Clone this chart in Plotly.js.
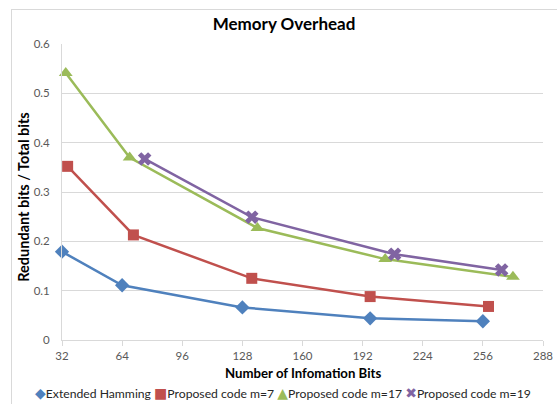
<!DOCTYPE html>
<html>
<head>
<meta charset="utf-8">
<script src="https://cdn.plot.ly/plotly-3.0.1.min.js"></script>
<style>
  html, body { margin: 0; padding: 0; background: #ffffff; overflow: hidden; }
  #frame { position: absolute; left: 11px; top: 9px; width: 600px; height: 450px; border: 1px solid #d9d9d9; box-sizing: border-box; }
  #chart { position: absolute; left: 0; top: 0; width: 557px; height: 404px; }
</style>
</head>
<body>
<div id="frame"></div>
<div id="chart"></div>
<script>
// ---- data ----
const seriesNames = ["Extended Hamming", "Proposed code m=7", "Proposed code m=17", "Proposed code m=19"];

const xHamming = [32, 64, 128, 196, 256];
const yHamming = [0.179, 0.111, 0.066, 0.044, 0.038];

const xM7 = [35, 70, 133, 196, 259];
const yM7 = [0.352, 0.213, 0.125, 0.088, 0.068];

const xM17 = [34, 68, 136, 204, 272];
const yM17 = [0.541, 0.370, 0.227, 0.164, 0.128];

const xM19 = [76, 133, 209, 266];
const yM19 = [0.367, 0.249, 0.174, 0.142];

const xTicks = [32, 64, 96, 128, 160, 192, 224, 256, 288];
const yTicks = [0, 0.1, 0.2, 0.3, 0.4, 0.5, 0.6];
const yTickText = ["0", "0.1", "0.2", "0.3", "0.4", "0.5", "0.6"];

// ---- styling ----
const FONT = "Lato, 'Open Sans', 'Liberation Sans', sans-serif";
const SYMFONT = "'DejaVu Sans', sans-serif";
const colors = ["#4F81BD", "#C0504D", "#9BBB59", "#8064A2"];
const symbols = ["diamond", "square", "triangle-up", "x"];
const legendGlyphs = ["\u25C6", "\u25A0", "\u25B2", "\u2716"];
const sizes = [11, 11, 12, 12];

const xs = [xHamming, xM7, xM17, xM19];
const ys = [yHamming, yM7, yM17, yM19];

const traces = seriesNames.map((name, i) => ({
  type: "scatter",
  mode: "lines+markers",
  name: name,
  x: xs[i],
  y: ys[i],
  line: { color: colors[i], width: 2.5 },
  marker: { color: colors[i], symbol: symbols[i], size: sizes[i], line: { width: 0 } },
  cliponaxis: false,
  showlegend: false
}));

// legend drawn as one line of rich text (glyph in series colour + name)
const legendText = seriesNames.map((name, i) =>
  '<span style="color:' + colors[i] + ';font-family:' + SYMFONT + ';font-size:14px">' + legendGlyphs[i] + '</span>' + name
).join(" ");

const L = 62, R = 14, T = 44, B = 63.5, W = 557, H = 404;
const plotW = W - L - R, plotH = H - T - B;

const layout = {
  width: W,
  height: H,
  paper_bgcolor: "rgba(0,0,0,0)",
  plot_bgcolor: "rgba(0,0,0,0)",
  margin: { l: L, r: R, t: T, b: B, pad: 0 },
  font: { family: FONT, size: 12, color: "#595959" },
  title: {
    text: "<b>Memory Overhead</b>",
    font: { family: FONT, size: 17, color: "#000000" },
    x: 284 / W, xref: "container", xanchor: "center",
    y: 1 - 24 / H, yref: "container", yanchor: "middle"
  },
  xaxis: {
    range: [32, 288],
    tickvals: xTicks,
    ticktext: xTicks.map(String),
    showgrid: false,
    zeroline: false,
    showline: true,
    linecolor: "#d9d9d9",
    linewidth: 1,
    ticks: "outside",
    ticklen: 5,
    tickcolor: "#d9d9d9",
    tickfont: { family: FONT, size: 11.5, color: "#595959" },
    automargin: false,
    fixedrange: true
  },
  yaxis: {
    range: [0, 0.6],
    tickvals: yTicks,
    ticktext: yTickText,
    showgrid: true,
    gridcolor: "#d9d9d9",
    gridwidth: 1,
    zeroline: false,
    showline: true,
    linecolor: "#d9d9d9",
    linewidth: 1,
    ticks: "",
    ticklabelstandoff: 9,
    tickfont: { family: FONT, size: 11.5, color: "#595959" },
    automargin: false,
    fixedrange: true
  },
  showlegend: false,
  annotations: [
    {
      text: "<b>Number of Infomation Bits</b>",
      xref: "paper", yref: "paper",
      x: 0.5, y: (T + plotH - 374) / plotH,
      xanchor: "center", yanchor: "middle",
      showarrow: false,
      font: { family: FONT, size: 13.2, color: "#000000" }
    },
    {
      text: "<b>Redundant bits / Total bits</b>",
      xref: "paper", yref: "paper",
      x: (24 - L) / plotW, y: (T + plotH - 197) / plotH,
      xanchor: "center", yanchor: "middle",
      textangle: -90,
      showarrow: false,
      font: { family: FONT, size: 14.5, color: "#000000" }
    },
    {
      text: legendText,
      xref: "paper", yref: "paper",
      x: (283 - L) / plotW, y: (T + plotH - 394) / plotH,
      xanchor: "center", yanchor: "middle",
      showarrow: false,
      font: { family: FONT, size: 12.2, color: "#262626" }
    }
  ]
};

Plotly.newPlot("chart", traces, layout, { staticPlot: true, displayModeBar: false });
</script>
</body>
</html>
